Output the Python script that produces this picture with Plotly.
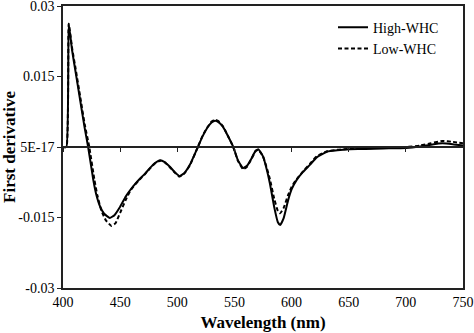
import plotly.graph_objects as go

# Wavelength (nm) and first-derivative values
wl_high = [400, 403, 405, 408, 411, 415, 419, 422, 426.5, 429, 432.5, 436, 441, 445, 450,
           455, 459, 463, 467.5, 472, 476, 480, 485, 489, 493.5, 498, 502, 506, 511, 518,
           522, 526, 530, 533, 536, 540, 544, 549, 553, 557.5, 561, 565, 568.5, 571,
           575, 578, 581, 585, 588, 590, 593, 597, 600, 604.5, 610, 616, 622, 631, 640,
           651, 665, 680, 700, 712, 722, 732, 741, 750]
high_whc = [0.0, 0.0, 0.0262, 0.0205, 0.0160, 0.0100, 0.0040, 0.0, -0.0070, -0.0100,
            -0.0127, -0.0142, -0.0151, -0.0145, -0.0127, -0.0105, -0.0091, -0.0079, -0.0067,
            -0.0056, -0.0045, -0.0035, -0.0028, -0.0032, -0.0042, -0.0054, -0.0062, -0.0056,
            -0.0038, 0.0, 0.0022, 0.0040, 0.0052, 0.0056, 0.0053, 0.0043, 0.0025, 0.0,
            -0.0028, -0.0045, -0.0040, -0.0024, -0.0008, -0.0005, -0.0020, -0.0045, -0.0077,
            -0.0130, -0.0160, -0.0166, -0.0152, -0.0113, -0.0090, -0.0070, -0.0053, -0.0038,
            -0.0022, -0.0010, -0.0007, -0.0005, -0.0004, -0.0003, -0.0002, 0.0001, 0.0005,
            0.0008, 0.0006, 0.0003]

wl_low = [400, 403, 405, 408, 411, 415, 419, 423, 427.5, 430, 433.5, 437.5, 442.5, 446, 450,
          455, 459, 463, 467.5, 472, 476, 480, 485, 489, 493.5, 498, 502, 506, 511, 518,
          522, 526, 530, 533, 536, 540, 544, 549, 553, 557.5, 561, 565, 568.5, 571,
          575, 578, 581, 585, 588, 590, 593, 597, 600, 604.5, 610, 616, 622, 631, 640,
          651, 665, 680, 700, 712, 722, 732, 741, 750]
low_whc = [0.0, 0.0, 0.0262, 0.0210, 0.0167, 0.0108, 0.0048, 0.0, -0.0070, -0.0102,
           -0.0135, -0.0156, -0.0168, -0.0162, -0.0140, -0.0112, -0.0093, -0.0080, -0.0068,
           -0.0057, -0.0046, -0.0036, -0.0029, -0.0033, -0.0043, -0.0055, -0.0063, -0.0057,
           -0.0039, 0.0, 0.0023, 0.0041, 0.0054, 0.0058, 0.0055, 0.0044, 0.0025, 0.0,
           -0.0029, -0.0047, -0.0042, -0.0025, -0.0009, -0.0006, -0.0020, -0.0042, -0.0068,
           -0.0112, -0.0136, -0.0141, -0.0130, -0.0102, -0.0085, -0.0068, -0.0052, -0.0036,
           -0.0020, -0.0009, -0.0006, -0.0004, -0.0003, -0.0001, 0.0000, 0.0003, 0.0008,
           0.0013, 0.0011, 0.0008]

x_ticks = [400, 450, 500, 550, 600, 650, 700, 750]
y_ticks = [-0.03, -0.015, 0.0, 0.015, 0.03]
y_tick_labels = ["-0.03", "-0.015", "5E-17", "0.015", "0.03"]

FONT = "Liberation Serif, Times New Roman, serif"

fig = go.Figure()
fig.add_trace(go.Scatter(
    x=wl_low, y=low_whc, name="Low-WHC", mode="lines", xaxis="x2",
    line=dict(color="black", width=2, dash="4px,2.5px", shape="spline", smoothing=0.4),
))
fig.add_trace(go.Scatter(
    x=wl_high, y=high_whc, name="High-WHC", mode="lines",
    line=dict(color="black", width=2, shape="spline", smoothing=0.4),
))

fig.update_layout(
    width=474, height=333,
    margin=dict(l=63, r=11, t=6, b=45),
    paper_bgcolor="white", plot_bgcolor="white",
    font=dict(family=FONT, size=14, color="black"),
    showlegend=True,
    legend=dict(x=0.675, y=0.98, xanchor="left", yanchor="top",
                bgcolor="rgba(0,0,0,0)", traceorder="reversed",
                font=dict(family=FONT, size=14)),
    xaxis=dict(range=[400, 750], tickvals=x_ticks, ticks="", showline=True,
               mirror=True, linecolor="#222", linewidth=1.5, showgrid=False,
               zeroline=False, automargin=False, ticklabeloverflow="allow",
               title=dict(text="<b>Wavelength (nm)</b>", standoff=8),
               fixedrange=True),
    xaxis2=dict(range=[400, 750], overlaying="x", anchor="free", position=0.5,
                side="bottom", tickvals=x_ticks, ticks="outside", ticklen=4,
                tickwidth=1, tickcolor="#222", showticklabels=False,
                showline=True, linecolor="#222", linewidth=1.5, showgrid=False,
                zeroline=False, automargin=False),
    yaxis=dict(range=[-0.03, 0.03], tickvals=y_ticks, ticktext=y_tick_labels,
               ticks="outside", ticklen=4, tickcolor="#222", showline=True,
               mirror=True, linecolor="#222", linewidth=1.5, showgrid=False,
               zeroline=False, automargin=False, ticklabeloverflow="allow",
               title=dict(text="<b>First derivative</b>", standoff=8)),
)

fig.write_html("out.html")
